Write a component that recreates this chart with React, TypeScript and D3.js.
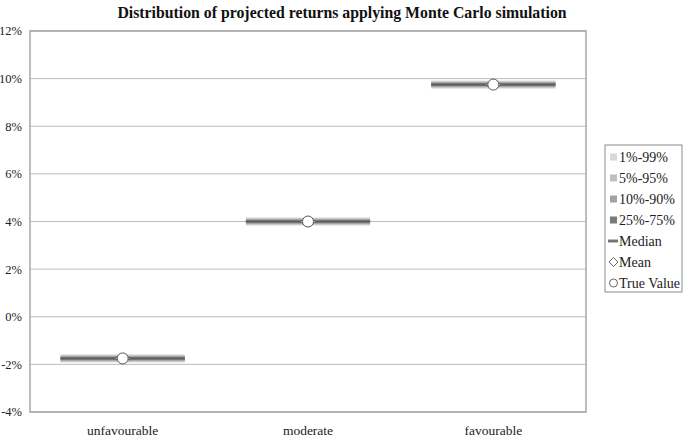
import React, { useEffect, useRef } from "react";
import * as d3 from "d3";

const categories = ["unfavourable", "moderate", "favourable"];
const p01 = [-1.92, 3.83, 9.58];
const p99 = [-1.58, 4.17, 9.92];
const p05 = [-1.88, 3.87, 9.62];
const p95 = [-1.62, 4.13, 9.88];
const p10 = [-1.85, 3.9, 9.65];
const p90 = [-1.65, 4.1, 9.85];
const p25 = [-1.81, 3.94, 9.69];
const p75 = [-1.69, 4.06, 9.81];
const median = [-1.75, 4.0, 9.75];
const mean = [-1.75, 4.0, 9.75];
const trueValue = [-1.75, 4.0, 9.75];
const yTicks = [-4, -2, 0, 2, 4, 6, 8, 10, 12];
const legendItems = ["1%-99%", "5%-95%", "10%-90%", "25%-75%", "Median", "Mean", "True Value"];

const bands = [
  { lo: p01, hi: p99, color: "#d9d9d9" },
  { lo: p05, hi: p95, color: "#bfbfbf" },
  { lo: p10, hi: p90, color: "#a3a3a3" },
  { lo: p25, hi: p75, color: "#7a7a7a" },
];

const FONT = "'Liberation Serif', 'Times New Roman', serif";

export default function App() {
  const ref = useRef<SVGSVGElement>(null);

  useEffect(() => {
    const svg = d3.select(ref.current);
    svg.selectAll("*").remove();

    const margin = { top: 31, right: 99, bottom: 25, left: 30 };
    const width = 685 - margin.left - margin.right;
    const height = 437 - margin.top - margin.bottom;

    const g = svg.append("g").attr("transform", `translate(${margin.left},${margin.top})`);

    const x = d3.scaleBand().domain(categories).range([0, width]).paddingInner(0.33).paddingOuter(0.165);
    const y = d3.scaleLinear().domain([-4, 12]).range([height, 0]);

    // grid
    g.append("g")
      .selectAll("line")
      .data(yTicks)
      .join("line")
      .attr("x1", 0)
      .attr("x2", width)
      .attr("y1", d => y(d))
      .attr("y2", d => y(d))
      .attr("stroke", "#bdbdbd")
      .attr("stroke-width", 1);

    // frame
    g.append("rect")
      .attr("width", width)
      .attr("height", height)
      .attr("fill", "none")
      .attr("stroke", "#a6a6a6")
      .attr("stroke-width", 1.5);

    // y axis labels
    g.append("g")
      .selectAll("text")
      .data(yTicks)
      .join("text")
      .attr("x", -8)
      .attr("y", d => y(d))
      .attr("dy", "0.35em")
      .attr("text-anchor", "end")
      .attr("font-family", FONT)
      .attr("font-size", 12.5)
      .attr("fill", "#222")
      .text(d => d + "%");

    // x labels
    g.append("g")
      .selectAll("text")
      .data(categories)
      .join("text")
      .attr("x", d => x(d)! + x.bandwidth() / 2)
      .attr("y", height + 18)
      .attr("dy", "0.35em")
      .attr("text-anchor", "middle")
      .attr("font-family", FONT)
      .attr("font-size", 13.5)
      .attr("fill", "#222")
      .text(d => d);

    // percentile bands
    bands.forEach(b => {
      g.append("g")
        .selectAll("rect")
        .data(categories)
        .join("rect")
        .attr("x", d => x(d)!)
        .attr("width", x.bandwidth())
        .attr("y", (d, i) => y(b.hi[i]))
        .attr("height", (d, i) => y(b.lo[i]) - y(b.hi[i]))
        .attr("fill", b.color);
    });

    // median
    g.append("g")
      .selectAll("line")
      .data(categories)
      .join("line")
      .attr("x1", d => x(d)!)
      .attr("x2", d => x(d)! + x.bandwidth())
      .attr("y1", (d, i) => y(median[i]))
      .attr("y2", (d, i) => y(median[i]))
      .attr("stroke", "#5e5e5e")
      .attr("stroke-width", 1.5);

    // mean diamond
    g.append("g")
      .selectAll("path")
      .data(categories)
      .join("path")
      .attr("transform", (d, i) => `translate(${x(d)! + x.bandwidth() / 2},${y(mean[i])})`)
      .attr("d", "M-8,0L0,-3.5L8,0L0,3.5Z")
      .attr("fill", "#fff")
      .attr("stroke", "#555")
      .attr("stroke-width", 0.8);

    // true value circle
    g.append("g")
      .selectAll("circle")
      .data(categories)
      .join("circle")
      .attr("cx", d => x(d)! + x.bandwidth() / 2)
      .attr("cy", (d, i) => y(trueValue[i]))
      .attr("r", 5.5)
      .attr("fill", "#fff")
      .attr("stroke", "#444")
      .attr("stroke-width", 0.9);

    // title
    svg.append("text")
      .attr("x", 342)
      .attr("y", 12)
      .attr("dy", "0.35em")
      .attr("text-anchor", "middle")
      .attr("font-family", FONT)
      .attr("font-weight", "bold")
      .attr("font-size", 15.8)
      .attr("fill", "#111")
      .text("Distribution of projected returns applying Monte Carlo simulation");

    // legend
    const lg = svg.append("g").attr("transform", "translate(605,145)");
    lg.append("rect")
      .attr("width", 77)
      .attr("height", 147)
      .attr("fill", "#fff")
      .attr("stroke", "#8c8c8c")
      .attr("stroke-width", 1);

    const ly = d3.scalePoint().domain(legendItems).range([12, 138]);
    const rows = lg.selectAll("g.row").data(legendItems).join("g")
      .attr("class", "row")
      .attr("transform", d => `translate(0,${ly(d)})`);

    rows.filter((d, i) => i < 4)
      .append("rect")
      .attr("x", 5)
      .attr("y", -3.5)
      .attr("width", 7)
      .attr("height", 7)
      .attr("fill", (d, i) => bands[i].color);

    rows.filter(d => d === "Median")
      .append("rect")
      .attr("x", 3)
      .attr("y", -2)
      .attr("width", 10)
      .attr("height", 4)
      .attr("fill", "#bfbfbf")
      .attr("stroke", "none");
    rows.filter(d => d === "Median")
      .append("line")
      .attr("x1", 3)
      .attr("x2", 13)
      .attr("stroke", "#5e5e5e")
      .attr("stroke-width", 1.5);

    rows.filter(d => d === "Mean")
      .append("path")
      .attr("d", "M4,0L8.5,-4.5L13,0L8.5,4.5Z")
      .attr("fill", "#fff")
      .attr("stroke", "#444")
      .attr("stroke-width", 0.8);

    rows.filter(d => d === "True Value")
      .append("circle")
      .attr("cx", 8.5)
      .attr("r", 4)
      .attr("fill", "#fff")
      .attr("stroke", "#444")
      .attr("stroke-width", 0.8);

    rows.append("text")
      .attr("x", 14)
      .attr("dy", "0.35em")
      .attr("font-family", FONT)
      .attr("font-size", 14)
      .attr("fill", "#222")
      .text(d => d);
  }, []);

  return (
    <svg
      ref={ref}
      width={685}
      height={437}
      style={{ position: "absolute", left: 0, top: 0, background: "#fff" }}
    />
  );
}
